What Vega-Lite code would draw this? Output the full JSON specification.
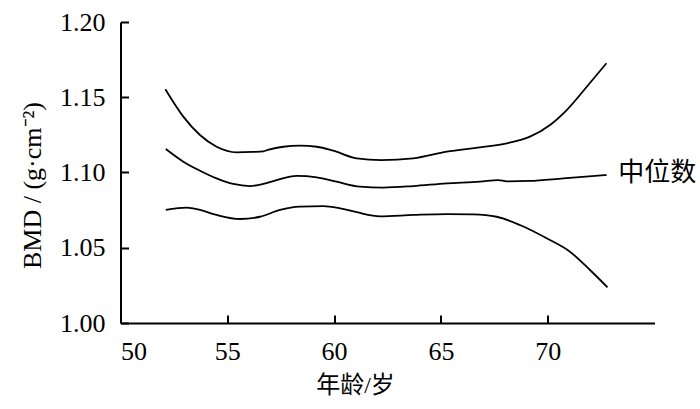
{
  "$schema": "https://vega.github.io/schema/vega-lite/v6.json",
  "width": 534,
  "height": 301,
  "autosize": {"type": "none"},
  "padding": {"left": 120.5, "top": 22, "right": 45.5, "bottom": 86},
  "background": "white",
  "config": {
    "view": {"stroke": null},
    "font": "Liberation Serif",
    "axis": {
      "grid": false,
      "domainColor": "black",
      "domainWidth": 2,
      "tickColor": "black",
      "tickWidth": 2,
      "tickSize": -8,
      "labelColor": "black",
      "labelFont": "Liberation Serif",
      "labelFontSize": 26,
      "titleColor": "black",
      "titleFontWeight": "normal"
    }
  },
  "datasets": {
    "curves": [
      {"age": 52.1, "bmd": 1.1553, "series": "upper"},
      {"age": 52.94, "bmd": 1.1371, "series": "upper"},
      {"age": 53.72, "bmd": 1.1249, "series": "upper"},
      {"age": 54.5, "bmd": 1.1171, "series": "upper"},
      {"age": 55.44, "bmd": 1.1134, "series": "upper"},
      {"age": 56.2, "bmd": 1.1137, "series": "upper"},
      {"age": 56.69, "bmd": 1.1141, "series": "upper"},
      {"age": 56.9, "bmd": 1.115, "series": "upper"},
      {"age": 57.62, "bmd": 1.1171, "series": "upper"},
      {"age": 58.4, "bmd": 1.1178, "series": "upper"},
      {"age": 59.19, "bmd": 1.1171, "series": "upper"},
      {"age": 59.96, "bmd": 1.1145, "series": "upper"},
      {"age": 61.06, "bmd": 1.1094, "series": "upper"},
      {"age": 62.2, "bmd": 1.1082, "series": "upper"},
      {"age": 63.71, "bmd": 1.1094, "series": "upper"},
      {"age": 65.27, "bmd": 1.1138, "series": "upper"},
      {"age": 66.83, "bmd": 1.1167, "series": "upper"},
      {"age": 68.08, "bmd": 1.1194, "series": "upper"},
      {"age": 69.17, "bmd": 1.1238, "series": "upper"},
      {"age": 70.11, "bmd": 1.1316, "series": "upper"},
      {"age": 70.89, "bmd": 1.1415, "series": "upper"},
      {"age": 71.83, "bmd": 1.157, "series": "upper"},
      {"age": 72.75, "bmd": 1.1726, "series": "upper"},
      {"age": 52.12, "bmd": 1.1156, "series": "median"},
      {"age": 52.94, "bmd": 1.1072, "series": "median"},
      {"age": 53.72, "bmd": 1.1012, "series": "median"},
      {"age": 54.5, "bmd": 1.0961, "series": "median"},
      {"age": 55.28, "bmd": 1.0924, "series": "median"},
      {"age": 56.06, "bmd": 1.091, "series": "median"},
      {"age": 56.69, "bmd": 1.0924, "series": "median"},
      {"age": 57.31, "bmd": 1.095, "series": "median"},
      {"age": 58.25, "bmd": 1.0977, "series": "median"},
      {"age": 59.19, "bmd": 1.0968, "series": "median"},
      {"age": 60.12, "bmd": 1.0939, "series": "median"},
      {"age": 61.21, "bmd": 1.0906, "series": "median"},
      {"age": 62.3, "bmd": 1.09, "series": "median"},
      {"age": 63.71, "bmd": 1.091, "series": "median"},
      {"age": 65.27, "bmd": 1.0928, "series": "median"},
      {"age": 66.83, "bmd": 1.0939, "series": "median"},
      {"age": 67.69, "bmd": 1.095, "series": "median"},
      {"age": 68.08, "bmd": 1.0941, "series": "median"},
      {"age": 69.17, "bmd": 1.0944, "series": "median"},
      {"age": 70.73, "bmd": 1.0961, "series": "median"},
      {"age": 72.76, "bmd": 1.0983, "series": "median"},
      {"age": 52.12, "bmd": 1.0751, "series": "lower"},
      {"age": 53.1, "bmd": 1.0766, "series": "lower"},
      {"age": 53.72, "bmd": 1.0751, "series": "lower"},
      {"age": 54.5, "bmd": 1.0718, "series": "lower"},
      {"age": 55.59, "bmd": 1.0691, "series": "lower"},
      {"age": 56.53, "bmd": 1.0706, "series": "lower"},
      {"age": 57.47, "bmd": 1.0751, "series": "lower"},
      {"age": 58.4, "bmd": 1.0773, "series": "lower"},
      {"age": 59.49, "bmd": 1.0777, "series": "lower"},
      {"age": 60.28, "bmd": 1.0762, "series": "lower"},
      {"age": 61.06, "bmd": 1.0736, "series": "lower"},
      {"age": 62.15, "bmd": 1.0709, "series": "lower"},
      {"age": 63.71, "bmd": 1.0718, "series": "lower"},
      {"age": 65.27, "bmd": 1.0724, "series": "lower"},
      {"age": 66.52, "bmd": 1.0722, "series": "lower"},
      {"age": 67.61, "bmd": 1.0706, "series": "lower"},
      {"age": 68.7, "bmd": 1.0651, "series": "lower"},
      {"age": 69.95, "bmd": 1.0563, "series": "lower"},
      {"age": 71.04, "bmd": 1.0474, "series": "lower"},
      {"age": 71.98, "bmd": 1.0352, "series": "lower"},
      {"age": 72.8, "bmd": 1.0237, "series": "lower"}
    ],
    "labels": [
      {"age": 73.3, "bmd": 1.0997, "label": "中位数"}
    ]
  },
  "layer": [
    {
      "data": {"name": "curves"},
      "mark": {"type": "line", "interpolate": "monotone", "color": "black", "strokeWidth": 1.8},
      "encoding": {
        "x": {
          "field": "age", "type": "quantitative",
          "scale": {"domain": [50, 75], "nice": false, "zero": false},
          "axis": {
            "values": [50, 55, 60, 65, 70],
            "labelFont": "Liberation Serif",
            "labelFontSize": 26,
            "labelPadding": 23,
            "labelBaseline": "top",
            "title": "年龄/岁",
            "titleFont": "Liberation Serif, Noto Sans CJK SC",
            "titleFontSize": 24,
            "titleX": 234.5,
            "titleY": 69,
            "titleAlign": "center",
            "titleBaseline": "alphabetic"
          }
        },
        "y": {
          "field": "bmd", "type": "quantitative",
          "scale": {"domain": [1.0, 1.2], "nice": false, "zero": false},
          "axis": {
            "values": [1.0, 1.05, 1.1, 1.15, 1.2],
            "format": ".2f",
            "labelFont": "Liberation Serif",
            "labelFontSize": 26,
            "labelPadding": 23.5,
            "title": "BMD / (g·cm⁻²)",
            "titleFont": "Liberation Serif",
            "titleFontSize": 26,
            "titleX": -75.5,
            "titleY": 163,
            "titleAngle": 270,
            "titleAlign": "center",
            "titleBaseline": "bottom"
          }
        },
        "detail": {"field": "series", "type": "nominal"}
      }
    },
    {
      "data": {"name": "labels"},
      "mark": {"type": "text", "align": "left", "baseline": "middle", "font": "Noto Sans CJK SC", "fontSize": 26, "color": "black"},
      "encoding": {
        "x": {"field": "age", "type": "quantitative"},
        "y": {"field": "bmd", "type": "quantitative"},
        "text": {"field": "label", "type": "nominal"}
      }
    }
  ]
}
